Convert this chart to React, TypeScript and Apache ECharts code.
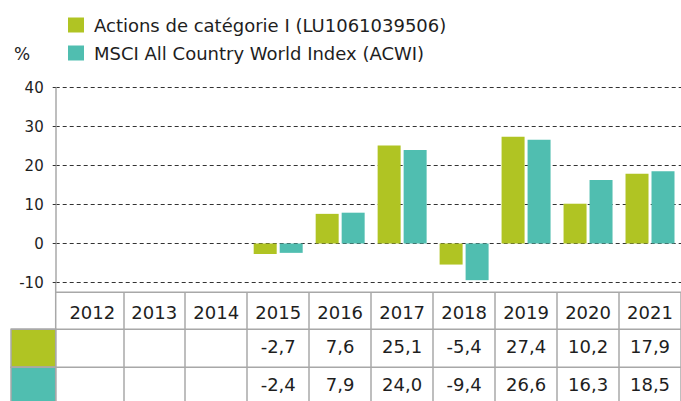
import React, { useEffect, useRef } from 'react';
import * as echarts from 'echarts';

const years = ['2012', '2013', '2014', '2015', '2016', '2017', '2018', '2019', '2020', '2021'];
const fundValues: (number | null)[] = [null, null, null, -2.7, 7.6, 25.1, -5.4, 27.4, 10.2, 17.9];
const indexValues: (number | null)[] = [null, null, null, -2.4, 7.9, 24.0, -9.4, 26.6, 16.3, 18.5];
const seriesNames = ['Actions de catégorie I (LU1061039506)', 'MSCI All Country World Index (ACWI)'];
const yMin = -10;
const yMax = 40;
const yInterval = 10;

const COLORS = ['#b0c423', '#50beb0'];
const FONT = 'DejaVu Sans';
const TEXT = '#1e1e1e';
const TABLE_LINE = '#a8a8a8';

const W = 681;
const H = 401;
const PLOT_TOP = 87.5;
const PLOT_BOTTOM = 282.5;
const AXIS_X = 55.7;
const GRID_LEFT = 61.3;
const GRID_WIDTH = 623.3;
const TABLE_TOP = 292.3;
const ROW1 = 329.3;
const ROW2 = 367.3;

const fmt = (v: number | null) => (v == null ? '' : v.toFixed(1).replace('.', ','));

export default function App() {
  const ref = useRef<HTMLDivElement>(null);
  useEffect(() => {
    if (!ref.current) return;
    const chart = echarts.init(ref.current, undefined, { renderer: 'svg' });
    const tableAxis = (offset: number, tickLen: number, margin: number, formatter: (v: string, i: number) => string) => ({
      gridIndex: 0,
      type: 'category',
      data: years,
      position: 'bottom',
      offset,
      axisLine: { show: false, onZero: false },
      axisTick: {
        show: true,
        length: tickLen,
        interval: (i: number) => i > 0,
        lineStyle: { color: TABLE_LINE, width: 1.5 },
      },
      axisLabel: {
        show: true,
        interval: 0,
        margin,
        verticalAlign: 'middle',
        fontSize: 18,
        lineHeight: 18,
        fontFamily: FONT,
        color: TEXT,
        formatter,
      },
      splitLine: { show: false },
    });
    chart.setOption({
      animation: false,
      title: {
        text: '%',
        left: 14,
        top: 44.5,
        padding: 0,
        textStyle: { fontSize: 17, lineHeight: 18, fontWeight: 'normal', fontFamily: FONT, color: TEXT },
      },
      legend: {
        orient: 'vertical',
        left: 68,
        top: 16,
        itemWidth: 16,
        itemHeight: 15,
        itemGap: 10,
        icon: 'rect',
        padding: 0,
        data: seriesNames,
        textStyle: { fontSize: 18, lineHeight: 18, fontFamily: FONT, color: TEXT, padding: [0, 0, 0, 5] },
      },
      grid: [
        { left: GRID_LEFT, width: GRID_WIDTH, top: PLOT_TOP, height: PLOT_BOTTOM - PLOT_TOP },
        { left: AXIS_X, right: 0, top: PLOT_TOP, height: PLOT_BOTTOM - PLOT_TOP },
      ],
      xAxis: [
        tableAxis(TABLE_TOP - PLOT_BOTTOM, ROW1 - TABLE_TOP, 20, (v: string) => v),
        tableAxis(ROW1 - PLOT_BOTTOM, ROW2 - ROW1, 17.5, (_v: string, i: number) => fmt(fundValues[i])),
        tableAxis(ROW2 - PLOT_BOTTOM, H - ROW2 + 5, 17.5, (_v: string, i: number) => fmt(indexValues[i])),
        { gridIndex: 1, type: 'value', show: false, axisLine: { onZero: false } },
      ],
      yAxis: [
        { gridIndex: 0, type: 'value', min: yMin, max: yMax, interval: yInterval, show: false },
        {
          gridIndex: 1,
          type: 'value',
          min: yMin,
          max: yMax,
          interval: yInterval,
          axisLine: { show: true, onZero: false, lineStyle: { color: '#a8a8a8', width: 1.5 } },
          axisTick: { show: true, length: 3, lineStyle: { color: '#333', width: 1 } },
          splitLine: { show: true, lineStyle: { color: '#333', width: 1, type: [4, 3] } },
          axisLabel: { margin: 12, fontSize: 15, fontFamily: FONT, color: TEXT },
        },
      ],
      series: [
        {
          name: seriesNames[0],
          type: 'bar',
          xAxisIndex: 0,
          yAxisIndex: 0,
          data: fundValues,
          barWidth: 23,
          barGap: '13%',
          itemStyle: { color: COLORS[0] },
        },
        {
          name: seriesNames[1],
          type: 'bar',
          xAxisIndex: 0,
          yAxisIndex: 0,
          data: indexValues,
          barWidth: 23,
          barGap: '13%',
          itemStyle: { color: COLORS[1] },
        },
      ],
      graphic: [
        { type: 'line', shape: { x1: AXIS_X, y1: PLOT_BOTTOM, x2: AXIS_X, y2: H }, style: { stroke: TABLE_LINE, lineWidth: 1.5 } },
        { type: 'line', shape: { x1: AXIS_X, y1: TABLE_TOP, x2: W, y2: TABLE_TOP }, style: { stroke: TABLE_LINE, lineWidth: 1.5 } },
        { type: 'rect', shape: { x: 11, y: ROW1, width: AXIS_X - 11, height: ROW2 - ROW1 }, style: { fill: COLORS[0], stroke: TABLE_LINE, lineWidth: 1.5 } },
        { type: 'rect', shape: { x: 11, y: ROW2, width: AXIS_X - 11, height: H - ROW2 + 5 }, style: { fill: COLORS[1], stroke: TABLE_LINE, lineWidth: 1.5 } },
        { type: 'line', shape: { x1: 11, y1: ROW1, x2: W, y2: ROW1 }, style: { stroke: TABLE_LINE, lineWidth: 1.5 } },
        { type: 'line', shape: { x1: 11, y1: ROW2, x2: W, y2: ROW2 }, style: { stroke: TABLE_LINE, lineWidth: 1.5 } },
      ],
    });
    return () => chart.dispose();
  }, []);
  return <div ref={ref} style={{ position: 'fixed', left: 0, top: 0, width: W, height: H, background: '#fff' }} />;
}
